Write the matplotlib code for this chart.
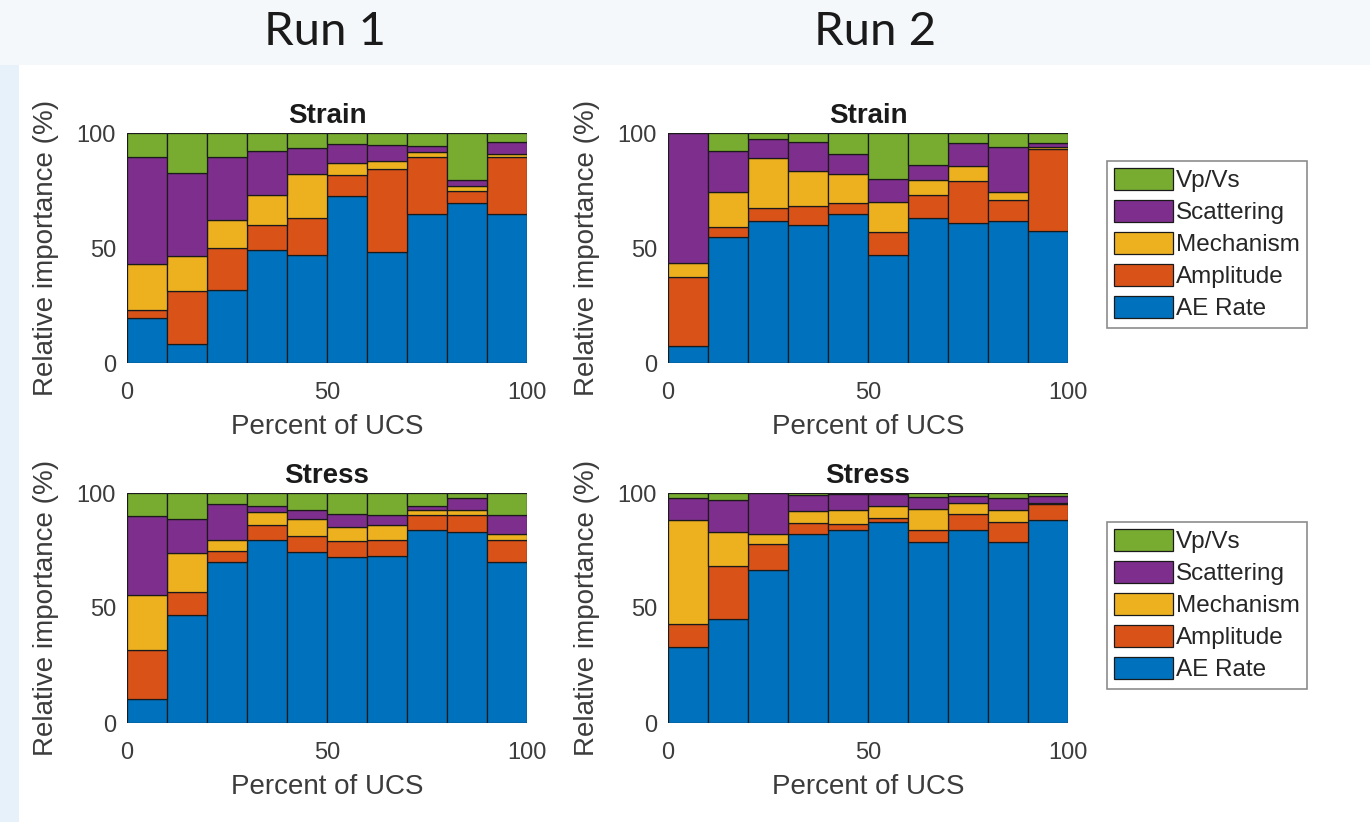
import numpy as np
import matplotlib
matplotlib.use('Agg')
import matplotlib.pyplot as plt
from matplotlib.patches import Rectangle

plt.rcParams['font.family'] = ['Liberation Sans', 'DejaVu Sans']

# bins of percent UCS (left edges), 10 % wide
bin_left = [0, 10, 20, 30, 40, 50, 60, 70, 80, 90]
names = ['AE Rate', 'Amplitude', 'Mechanism', 'Scattering', 'Vp/Vs']

# Run 1, strain
s1_ae   = [19.7, 8.4, 31.9, 49.0, 47.0, 72.8, 48.3, 64.6, 69.6, 64.6]
s1_amp  = [3.5, 22.9, 18.2, 11.0, 16.2, 8.8, 36.2, 25.0, 5.2, 25.0]
s1_mech = [20.0, 15.4, 12.2, 13.0, 18.8, 5.4, 3.3, 2.0, 2.3, 1.1]
s1_scat = [46.4, 36.1, 27.3, 19.2, 11.3, 8.4, 7.0, 2.6, 2.3, 5.2]
s1_vpvs = [10.4, 17.2, 10.4, 7.8, 6.7, 4.6, 5.2, 5.8, 20.6, 4.1]

# Run 2, strain
s2_ae   = [7.2, 54.8, 61.7, 60.0, 64.9, 46.8, 63.2, 60.9, 61.7, 57.4]
s2_amp  = [30.2, 4.3, 5.8, 8.4, 4.7, 10.2, 9.8, 18.2, 9.0, 35.6]
s2_mech = [6.1, 15.4, 21.8, 15.1, 12.7, 13.1, 6.4, 6.7, 3.8, 0.9]
s2_scat = [56.5, 17.7, 8.1, 12.4, 8.7, 9.9, 6.5, 9.9, 19.4, 1.8]
s2_vpvs = [0.0, 7.8, 2.6, 4.1, 9.0, 20.0, 14.1, 4.3, 6.1, 4.3]

# Run 1, stress
t1_ae   = [10.6, 47.1, 69.8, 79.7, 74.4, 72.1, 72.7, 83.7, 83.1, 70.1]
t1_amp  = [21.1, 9.9, 4.9, 6.6, 7.0, 7.0, 7.0, 6.7, 7.3, 9.6]
t1_mech = [24.0, 16.8, 4.7, 5.3, 7.3, 6.1, 6.6, 2.0, 2.0, 2.3]
t1_scat = [34.4, 14.9, 15.9, 2.9, 4.0, 5.8, 4.1, 2.1, 5.3, 8.4]
t1_vpvs = [9.9, 11.3, 4.7, 5.5, 7.3, 9.0, 9.6, 5.5, 2.3, 9.6]

# Run 2, stress
t2_ae   = [33.1, 45.3, 66.6, 82.3, 83.7, 87.2, 78.8, 84.0, 78.8, 88.4]
t2_amp  = [9.9, 23.0, 11.3, 4.6, 2.9, 1.8, 5.2, 6.9, 8.7, 6.9]
t2_mech = [45.1, 14.8, 4.1, 5.3, 5.8, 5.2, 9.0, 4.7, 5.2, 0.5]
t2_scat = [9.9, 13.7, 18.0, 6.9, 7.3, 5.2, 5.3, 3.2, 5.3, 3.0]
t2_vpvs = [2.0, 3.2, 0.0, 0.9, 0.3, 0.6, 1.7, 1.2, 2.0, 1.2]

colors = ['#0072BD', '#D95319', '#EDB120', '#7E2F8E', '#77AC30']
txt = '#3c3c3c'

W, H = 1370, 822
fig = plt.figure(figsize=(W/100, H/100), dpi=100, facecolor='#F4F8FB')
# slide background: bluish left strip + white figure area
fig.patches.append(Rectangle((0, 0), 19/W, 1 - 65/H, transform=fig.transFigure,
                             facecolor='#E7F1FA', edgecolor='none', zorder=-2))
fig.patches.append(Rectangle((19/W, 0), 1 - 19/W, 1 - 65/H, transform=fig.transFigure,
                             facecolor='white', edgecolor='none', zorder=-1))

def px_axes(x0, y0, x1, y1):
    return fig.add_axes([x0/W, 1 - y1/H, (x1 - x0)/W, (y1 - y0)/H])

def panel(ax, series, title):
    bottom = np.zeros(len(bin_left))
    bars = []
    for vals, c, n in zip(series, colors, names):
        b = ax.bar(bin_left, vals, width=10, bottom=bottom, align='edge',
                   color=c, edgecolor='#1a1a1a', linewidth=0.9, label=n)
        bars.append(b)
        bottom += np.array(vals)
    ax.set_xlim(0, 100)
    ax.set_ylim(0, 100)
    ax.set_xticks([0, 50, 100])
    ax.set_yticks([0, 50, 100])
    ax.tick_params(length=0, labelsize=17, colors=txt)
    ax.tick_params(axis='x', pad=14)
    ax.tick_params(axis='y', pad=8)
    for s in ax.spines.values():
        s.set_visible(False)
    ax.set_title(title, fontsize=20, fontweight='bold', color='#1a1a1a', pad=7)
    ax.set_xlabel('Percent of UCS', fontsize=20, color=txt)
    ax.set_ylabel('Relative importance (%)', fontsize=20, color=txt)
    ax.xaxis.set_label_coords(0.5, -0.22)
    ax.yaxis.set_label_coords(-0.17, 0.5)
    return bars

panels = [
    ((127, 133, 527, 363), [s1_ae, s1_amp, s1_mech, s1_scat, s1_vpvs], 'Strain'),
    ((668, 133, 1068, 363), [s2_ae, s2_amp, s2_mech, s2_scat, s2_vpvs], 'Strain'),
    ((127, 493, 527, 723), [t1_ae, t1_amp, t1_mech, t1_scat, t1_vpvs], 'Stress'),
    ((668, 493, 1068, 723), [t2_ae, t2_amp, t2_mech, t2_scat, t2_vpvs], 'Stress'),
]
for i, (box, series, title) in enumerate(panels):
    ax = px_axes(*box)
    bars = panel(ax, series, title)
    if i % 2 == 1:
        top = 161 if i == 1 else 522
        leg = fig.legend(bars[::-1], names[::-1], loc='upper left',
                         bbox_to_anchor=(1107/W, 1 - top/H), fontsize=17.5,
                         fancybox=False, framealpha=1, edgecolor='#8c8c8c',
                         handlelength=2.4, handleheight=1.0, handletextpad=0.15,
                         labelspacing=0.32, borderpad=0.3, borderaxespad=0)
        leg.get_frame().set_linewidth(1.2)
        for t in leg.get_texts():
            t.set_color('#262626')

fig.text(325/W, 1 - 45/H, 'Run 1', fontsize=34, family='Lato',
         ha='center', va='baseline', color='#1a1a1a')
fig.text(875/W, 1 - 45/H, 'Run 2', fontsize=34, family='Lato',
         ha='center', va='baseline', color='#1a1a1a')

fig.savefig('out.png', dpi=100, facecolor=fig.get_facecolor())
